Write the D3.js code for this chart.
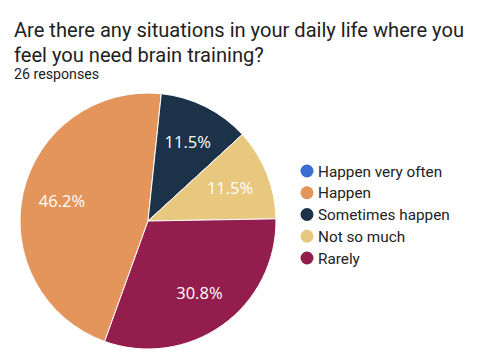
<!DOCTYPE html>
<html><head><meta charset="utf-8">
<script src="https://cdn.jsdelivr.net/npm/d3@7"></script>
<style>html,body{margin:0;padding:0;background:#fff;}</style>
</head><body>
<svg id="chart" width="480" height="360"></svg>
<script>
const titleLines = ["Are there any situations in your daily life where you", "feel you need brain training?"];
const subtitle = "26 responses";
const categories = ["Happen very often", "Happen", "Sometimes happen", "Not so much", "Rarely"];
const counts = [0, 12, 3, 3, 8];
const colors = ["#3b6dd1", "#e3955c", "#1b3249", "#e8c77f", "#931d4c"];

const svg = d3.select("#chart");
svg.selectAll("text.title").data(titleLines).join("text")
  .attr("x", 14).attr("y", (d, i) => 37 + i * 25)
  .attr("font-family", "Roboto").attr("font-size", 20.1).attr("fill", "#212121")
  .text(d => d);
svg.append("text").attr("x", 14).attr("y", 79)
  .attr("font-family", "Roboto").attr("font-size", 14.2).attr("fill", "#212121")
  .text(subtitle);

const total = d3.sum(counts);
const cx = 148, cy = 221, r = 128;
const data = categories.map((c, i) => ({cat: c, value: counts[i], color: colors[i]}));
const startDeg = -160.2;
const pie = d3.pie().sort(null).value(d => d.value)
  .startAngle(startDeg * Math.PI / 180).endAngle((startDeg + 360) * Math.PI / 180);
const arcs = pie(data);
const arc = d3.arc().innerRadius(0).outerRadius(r);
const g = svg.append("g").attr("transform", `translate(${cx},${cy})`);
g.selectAll("path").data(arcs.filter(a => a.data.value > 0)).join("path")
  .attr("d", arc).attr("fill", d => d.data.color)
  .attr("stroke", "#fff").attr("stroke-width", 1);
const labelArc = d3.arc().innerRadius(r * 0.69).outerRadius(r * 0.69);
g.selectAll("text").data(arcs.filter(a => a.data.value > 0)).join("text")
  .attr("transform", d => `translate(${labelArc.centroid(d)})`)
  .attr("text-anchor", "middle").attr("dy", "0.36em")
  .attr("font-family", "Open Sans").attr("font-size", 16.5).attr("fill", "#fff")
  .text(d => d3.format(".1f")(d.data.value / total * 100) + "%");

const legend = svg.append("g");
const ly = d3.scalePoint().domain(categories).range([171, 258]);
const items = legend.selectAll("g").data(data).join("g")
  .attr("transform", d => `translate(307,${ly(d.cat)})`);
items.append("circle").attr("r", 6.5).attr("fill", d => d.color);
items.append("text").attr("x", 11).attr("dy", "0.36em")
  .attr("font-family", "Roboto").attr("font-size", 15.3).attr("fill", "#222")
  .text(d => d.cat);
</script>
</body></html>
